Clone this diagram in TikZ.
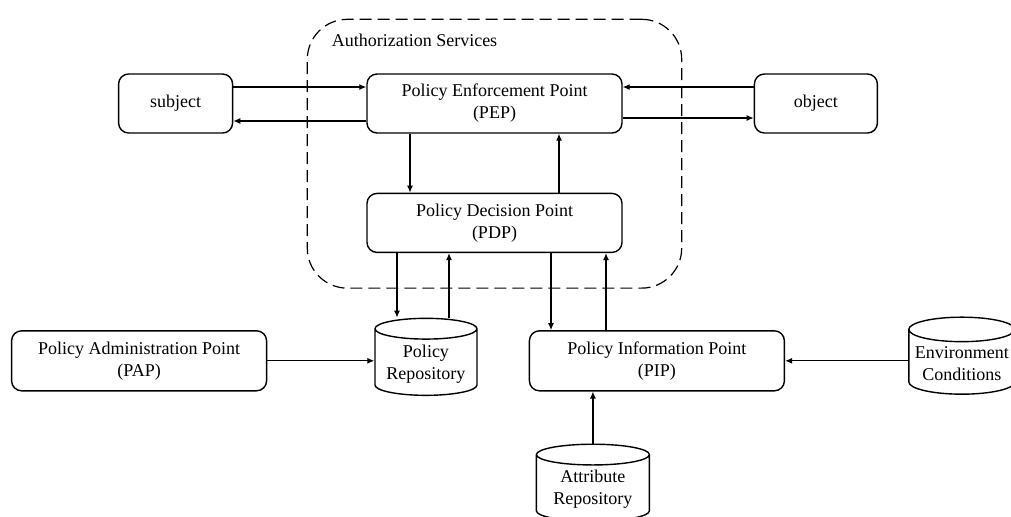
\documentclass[tikz,border=0pt]{standalone}
\usepackage{fontspec}
\setmainfont{Liberation Serif}
\usetikzlibrary{shapes.geometric, arrows.meta, positioning, fit, backgrounds}

\begin{document}
\begin{tikzpicture}[
		x=0.5pt, y=-0.5pt,
		font=\fontsize{9}{11}\selectfont,
		% Define styles
		pointbox/.style={rectangle, minimum width=127.5pt, minimum height=29.5pt, text centered, align=center, draw=black, line width=0.7pt, rounded corners=5pt},
		actorbox/.style={rectangle, minimum height=29.5pt, text centered, draw=black, line width=0.7pt, rounded corners=5pt},
		storebox/.style={cylinder, shape border rotate=90, aspect=0.25, minimum height=38.5pt, align=center, inner xsep=1pt, inner ysep=1pt, draw=black, line width=0.7pt},
		arrow/.style={line width=0.6pt,-{Latex[length=3.5pt,width=3pt]}},
		container/.style={rectangle, draw, line width=0.6pt, dash pattern=on 6pt off 3pt, rounded corners=20pt, inner xsep=29.5pt, inner ysep=0pt}
		]
		
		\useasboundingbox (0,0) rectangle (1011,516);
		
		% Authorization services
		\node (pep) [pointbox] at (494.5,103.5) {Policy Enforcement Point\\(PEP)};
		\node (pdp) [pointbox, below=29.5pt of pep] {Policy Decision Point\\(PDP)};
		
		% Subject and object
		\node (subject) [actorbox, minimum width=57pt, left=66.5pt of pep] {subject};
		\node (object) [actorbox, minimum width=61.5pt, right=65.5pt of pep] {object};
		
		% Lower row
		\node (pip) [pointbox, minimum height=30pt, below right=38.5pt and -47pt of pdp] {Policy Information Point\\(PIP)};
		\node (policyrepo) [storebox, minimum width=51pt, left=25.5pt of pip, yshift=-1.5pt] {Policy\\Repository};
		\node (pap) [pointbox, minimum height=30pt, left=53.5pt of policyrepo, yshift=1.5pt] {Policy Administration Point\\(PAP)};
		\node (envcond) [storebox, minimum width=53pt, right=61.5pt of pip, yshift=-1.5pt] {Environment\\Conditions};
		\node (attrrepo) [storebox, minimum width=56.5pt, below=26pt of pip, xshift=-32pt] {Attribute\\Repository};
		
		% Draw arrows
		\draw [arrow] ([yshift=8.25pt]subject.east) -- ([yshift=8.25pt]subject.east -| pep.west);
		\draw [arrow] ([yshift=-8.75pt]pep.west) -- ([yshift=-8.75pt]pep.west -| subject.east);
		\draw [arrow] ([yshift=8.25pt]object.west) -- ([yshift=8.25pt]object.west -| pep.east);
		\draw [arrow] ([yshift=-7.25pt]pep.east) -- ([yshift=-7.25pt]pep.east -| object.west);
		\draw [arrow] ([xshift=-42.25pt]pep.south) -- ([xshift=-42.25pt]pep.south |- pdp.north);
		\draw [arrow] ([xshift=32.25pt]pdp.north) -- ([xshift=32.25pt]pdp.north |- pep.south);
		\draw [arrow] ([xshift=-48.75pt]pdp.south) -- ([xshift=-48.75pt]pdp.south |- policyrepo.north);
		\draw [arrow] ([xshift=-22.75pt]pdp.south |- policyrepo.north) -- ([xshift=-22.75pt]pdp.south);
		\draw [arrow] ([xshift=28.25pt]pdp.south) -- ([xshift=28.25pt]pdp.south |- pip.north);
		\draw [arrow] ([xshift=55.75pt]pdp.south |- pip.north) -- ([xshift=55.75pt]pdp.south);
		\draw [arrow] (pap.east) -- (pap.east -| policyrepo.west);
		\draw [arrow] (envcond.west |- pip.east) -- (pip.east);
		\draw [arrow] (attrrepo.north) -- (attrrepo.north |- pip.south);
		
		% Dashed box round the services
		\begin{scope}[on background layer]
			\node[container, fit={([yshift=27pt]pep.north) ([yshift=-17.5pt]pdp.south) (pep) (pdp)},
			label={[anchor=north west, xshift=9pt, yshift=-4pt]north west:Authorization Services}] (authbox) {};
		\end{scope}
		
	\end{tikzpicture}
\end{document}
